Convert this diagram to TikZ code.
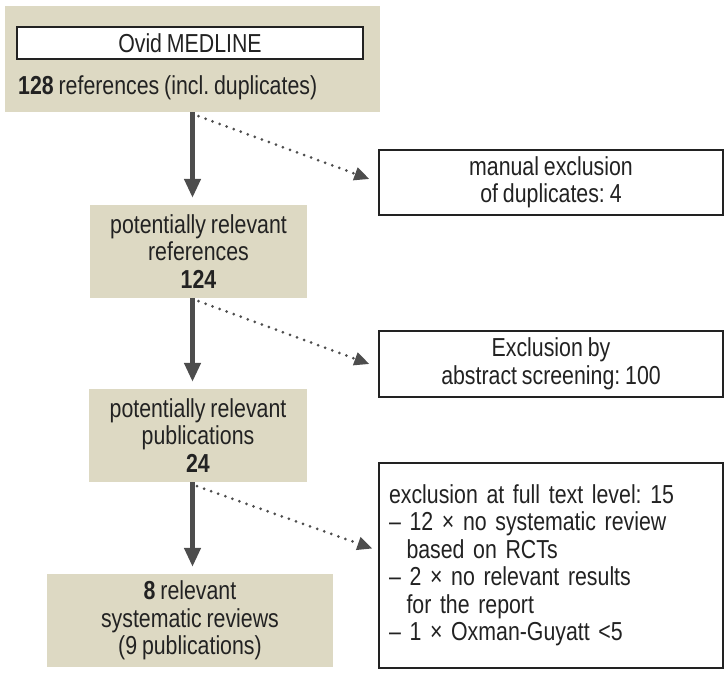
\documentclass[tikz,border=0pt]{standalone}
\usepackage{fontspec}
\setmainfont[FakeStretch=0.82, WordSpace=0.82]{Liberation Sans}
\usetikzlibrary{arrows.meta}
\definecolor{tan}{RGB}{221,217,195}
\definecolor{arrowgray}{RGB}{77,77,77}
\definecolor{inkgray}{RGB}{34,34,34}

\begin{document}
\begin{tikzpicture}[x=1bp,y=-1bp,
	every node/.style={inner sep=0pt, text=inkgray, font=\fontsize{26bp}{27.5bp}\selectfont\frenchspacing},
	tanbox/.style={fill=tan, align=center},
	whitebox/.style={draw=inkgray, line width=1.3bp, fill=white, align=center},
	flow/.style={arrowgray, line width=4.5bp, shorten >=7bp, -{Triangle[width=16bp,length=19bp]}},
	skip/.style={arrowgray, line width=3bp, line cap=round, dash pattern=on 0bp off 7.5bp, -{Triangle[width=13bp,length=15bp]}}]
	\useasboundingbox (0,0) rectangle (728,674);

	\node[tanbox, minimum width=375bp, minimum height=106bp] (medline) at (192.5,59) {};
	\node[whitebox, minimum width=346bp, minimum height=32bp] (ovid) at (190,43) {Ovid MEDLINE};
	\node[anchor=base west] (total) at (18,95) {\textbf{128} references (incl. duplicates)};

	\node[tanbox, minimum width=217bp, minimum height=93bp] (refs) at (198.5,251.5) {potentially relevant\\references\\\textbf{124}};
	\node[tanbox, minimum width=218bp, minimum height=93bp] (pubs) at (198,435.5) {potentially relevant\\publications\\\textbf{24}};
	\node[tanbox, minimum width=286bp, minimum height=93bp] (final) at (190,620.5) {\textbf{8} relevant\\systematic reviews\\(9 publications)};

	\node[whitebox, minimum width=344bp, minimum height=65bp] (excl1) at (551,182.5) {manual exclusion\\of duplicates: 4};
	\node[whitebox, minimum width=344bp, minimum height=66bp] (excl2) at (551,364) {Exclusion by\\abstract screening: 100};
	\node[whitebox, minimum width=344bp, minimum height=205bp, text width=324bp, align=left] (excl3) at (551,565.5) {exclusion at full text level: 15\\
		– 12 × no systematic review\\
		\hspace*{17.5bp}based on RCTs\\
		– 2 × no relevant results\\
		\hspace*{17.5bp}for the report\\
		– 1 × Oxman-Guyatt <5};

	\draw[flow] (medline.south) -- (medline.south |- refs.north);
	\draw[flow] (refs.south -| medline.south) -- (pubs.north -| medline.south);
	\draw[flow] (pubs.south -| medline.south) -- (final.north -| medline.south);

	\draw[skip] ([xshift=6bp,yshift=-4bp]medline.south) -- ([xshift=-9bp,yshift=3.5bp]excl1.west);
	\draw[skip] ([yshift=-3bp]refs.south) -- ([xshift=-9bp]excl2.west);
	\draw[skip] ([xshift=-1bp,yshift=-4bp]pubs.south) -- ([xshift=-6bp,yshift=17bp]excl3.west);
\end{tikzpicture}
\end{document}
